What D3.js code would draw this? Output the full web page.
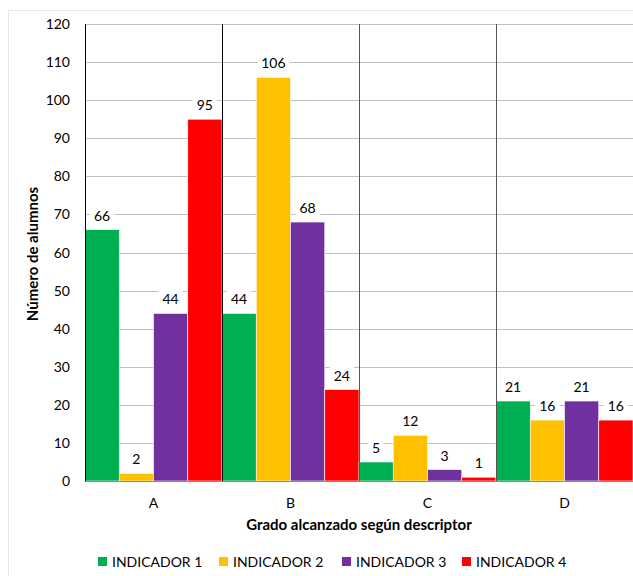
<!DOCTYPE html>
<html>
<head>
<meta charset="utf-8">
<script src="https://cdn.jsdelivr.net/npm/d3@7/dist/d3.min.js"></script>
<style>
    body { margin: 0; background: #fff; }
    svg { font-family: Lato, 'Open Sans', sans-serif; display: block; }
    .tick-label { font-size: 14px; fill: #000; }
    .axis-title { font-size: 15px; font-weight: bold; fill: #000; }
</style>
</head>
<body>
<svg width="633" height="576"></svg>
<script>
'use strict';

///////////////////////////// data ///////////////////////////
var categories = ['A', 'B', 'C', 'D'];
var seriesNames = ['INDICADOR 1', 'INDICADOR 2', 'INDICADOR 3', 'INDICADOR 4'];
var seriesColors = ['#00b050', '#ffc000', '#7030a0', '#ff0000'];
var indicador1 = [66, 44, 5, 21];
var indicador2 = [2, 106, 12, 16];
var indicador3 = [44, 68, 3, 21];
var indicador4 = [95, 24, 1, 16];
var yTicks = [0, 10, 20, 30, 40, 50, 60, 70, 80, 90, 100, 110, 120];

var seriesValues = [indicador1, indicador2, indicador3, indicador4];

///////////////////////////// set up ///////////////////////////
var svg = d3.select('svg');
var plot = {left: 85, right: 633, top: 24, bottom: 481};

// faint outer chart border
svg.append('rect')
    .attr('x', 8.5).attr('y', 10.5)
    .attr('width', 640).attr('height', 600)
    .attr('fill', 'none')
    .attr('stroke', '#e6e6e6');

var x = d3.scaleBand()
    .domain(categories)
    .range([plot.left, plot.right])
    .paddingInner(0).paddingOuter(0);
var xSub = d3.scaleBand()
    .domain(seriesNames)
    .range([0, x.bandwidth()])
    .padding(0);
var y = d3.scaleLinear()
    .domain([0, 120])
    .range([plot.bottom, plot.top]);

// horizontal gridlines
svg.append('g').selectAll('line')
    .data(yTicks)
    .enter().append('line')
    .attr('x1', plot.left).attr('x2', plot.right)
    .attr('y1', function(d) { return Math.round(y(d)) + 0.5; })
    .attr('y2', function(d) { return Math.round(y(d)) + 0.5; })
    .attr('stroke', '#c0c0c0')
    .attr('stroke-width', 1);

// y tick labels
svg.append('g').selectAll('text')
    .data(yTicks)
    .enter().append('text')
    .attr('class', 'tick-label')
    .attr('x', 70)
    .attr('y', function(d) { return y(d) + 5; })
    .attr('text-anchor', 'end')
    .text(function(d) { return d; });

// bars
var rows = [];
categories.forEach(function(cat, ci) {
    seriesNames.forEach(function(name, si) {
        rows.push({cat: cat, series: name, color: seriesColors[si], value: seriesValues[si][ci]});
    });
});

svg.append('g').selectAll('rect')
    .data(rows)
    .enter().append('rect')
    .attr('x', function(d) { return x(d.cat) + xSub(d.series); })
    .attr('y', function(d) { return y(d.value); })
    .attr('width', xSub.bandwidth())
    .attr('height', function(d) { return y(0) - y(d.value); })
    .attr('fill', function(d) { return d.color; })
    .attr('stroke', '#fff')
    .attr('stroke-width', 0.6);

// category separators + left axis
var seps = categories.map(function(c) { return x(c); });
svg.append('g').selectAll('line')
    .data(seps)
    .enter().append('line')
    .attr('x1', function(d) { return Math.round(d) + 0.5; })
    .attr('x2', function(d) { return Math.round(d) + 0.5; })
    .attr('y1', plot.top).attr('y2', plot.bottom)
    .attr('stroke', function(d, i) { return i < 2 ? '#000' : '#555'; })
    .attr('stroke-width', 1);

// baseline
svg.append('line')
    .attr('x1', plot.left).attr('x2', plot.right)
    .attr('y1', plot.bottom + 0.5).attr('y2', plot.bottom + 0.5)
    .attr('stroke', '#8c8c8c');

// value labels with white background
var labels = svg.append('g').selectAll('g')
    .data(rows)
    .enter().append('g')
    .attr('transform', function(d) {
        return 'translate(' + (x(d.cat) + xSub(d.series) + xSub.bandwidth() / 2) + ',' + (y(d.value) - 9) + ')';
    });
labels.append('rect').attr('fill', '#fff');
labels.append('text')
    .attr('class', 'tick-label')
    .attr('text-anchor', 'middle')
    .text(function(d) { return d.value; });
labels.each(function() {
    var g = d3.select(this);
    var bb = g.select('text').node().getBBox();
    g.select('rect')
        .attr('x', bb.x - 4).attr('y', bb.y)
        .attr('width', bb.width + 8).attr('height', bb.height);
});

// category labels
svg.append('g').selectAll('text')
    .data(categories)
    .enter().append('text')
    .attr('class', 'tick-label')
    .attr('x', function(d) { return x(d) + x.bandwidth() / 2; })
    .attr('y', 508)
    .attr('text-anchor', 'middle')
    .text(function(d) { return d; });

// axis titles
svg.append('text')
    .attr('class', 'axis-title')
    .attr('x', 359).attr('y', 530)
    .attr('text-anchor', 'middle')
    .text('Grado alcanzado según descriptor');
svg.append('text')
    .attr('class', 'axis-title')
    .attr('transform', 'translate(38,254) rotate(-90)')
    .attr('text-anchor', 'middle')
    .text('Número de alumnos');

// legend
var legendX = [98, 219, 342, 462];
var legend = svg.append('g').selectAll('g')
    .data(seriesNames)
    .enter().append('g')
    .attr('transform', function(d, i) { return 'translate(' + legendX[i] + ',557)'; });
legend.append('rect')
    .attr('width', 9).attr('height', 9)
    .attr('fill', function(d, i) { return seriesColors[i]; });
legend.append('text')
    .attr('class', 'tick-label')
    .attr('x', 14).attr('y', 10)
    .text(function(d) { return d; });
</script>
</body>
</html>
